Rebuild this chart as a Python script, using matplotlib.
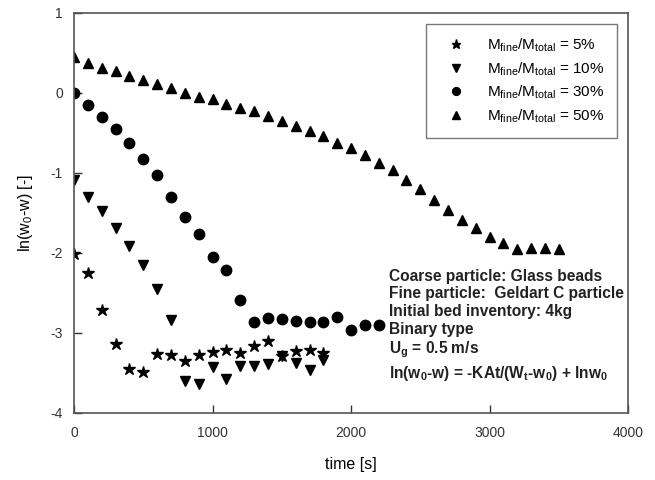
import matplotlib.pyplot as plt
import numpy as np

plt.rcParams['font.family'] = ['Liberation Sans', 'DejaVu Sans']
plt.rcParams['mathtext.fontset'] = 'custom'
plt.rcParams['mathtext.rm'] = 'Liberation Sans'
plt.rcParams['mathtext.it'] = 'Liberation Sans'
plt.rcParams['mathtext.bf'] = 'Liberation Sans:bold'
plt.rcParams['axes.unicode_minus'] = False

# data (time in s, ln(w0-w))
t_5 = [0, 100, 200, 300, 400, 500, 600, 700, 800, 900, 1000, 1100, 1200,
       1300, 1400, 1500, 1600, 1700, 1800]
y_5 = [-2.01, -2.25, -2.71, -3.14, -3.45, -3.49, -3.26, -3.28, -3.35, -3.28,
       -3.24, -3.21, -3.25, -3.17, -3.10, -3.29, -3.23, -3.22, -3.25]

t_10 = [0, 100, 200, 300, 400, 500, 600, 700, 800, 900, 1000, 1100, 1200,
        1300, 1400, 1500, 1600, 1700, 1800]
y_10 = [-1.09, -1.30, -1.48, -1.69, -1.92, -2.15, -2.45, -2.84, -3.60, -3.64,
        -3.43, -3.58, -3.42, -3.41, -3.39, -3.29, -3.38, -3.47, -3.34]

t_30 = [0, 100, 200, 300, 400, 500, 600, 700, 800, 900, 1000, 1100, 1200,
        1300, 1400, 1500, 1600, 1700, 1800, 1900, 2000, 2100, 2200]
y_30 = [0.0, -0.15, -0.30, -0.45, -0.63, -0.83, -1.03, -1.30, -1.55, -1.77,
        -2.05, -2.22, -2.59, -2.86, -2.82, -2.83, -2.85, -2.86, -2.87, -2.80,
        -2.97, -2.90, -2.90]

t_50 = [0, 100, 200, 300, 400, 500, 600, 700, 800, 900, 1000, 1100, 1200,
        1300, 1400, 1500, 1600, 1700, 1800, 1900, 2000, 2100, 2200, 2300,
        2400, 2500, 2600, 2700, 2800, 2900, 3000, 3100, 3200, 3300, 3400, 3500]
y_50 = [0.45, 0.38, 0.31, 0.27, 0.21, 0.16, 0.11, 0.06, 0.00, -0.05, -0.08,
        -0.14, -0.19, -0.23, -0.29, -0.35, -0.41, -0.47, -0.54, -0.62, -0.69,
        -0.78, -0.87, -0.97, -1.09, -1.20, -1.34, -1.47, -1.59, -1.69, -1.80,
        -1.88, -1.95, -1.94, -1.94, -1.95]

labels = [r'M$_\mathregular{fine}$/M$_\mathregular{total}$ = 5%',
          r'M$_\mathregular{fine}$/M$_\mathregular{total}$ = 10%',
          r'M$_\mathregular{fine}$/M$_\mathregular{total}$ = 30%',
          r'M$_\mathregular{fine}$/M$_\mathregular{total}$ = 50%']

info_lines = ['Coarse particle: Glass beads',
              'Fine particle:  Geldart C particle',
              'Initial bed inventory: 4kg',
              'Binary type',
              r'U$_\mathbf{g}$ = 0.5 m/s',
              r'ln(w$_\mathbf{0}$-w) = -KAt/(W$_\mathbf{t}$-w$_\mathbf{0}$) + lnw$_\mathbf{0}$']

fig = plt.figure(figsize=(6.55, 4.8), dpi=100)
ax = fig.add_axes([0.113, 0.14, 0.846, 0.833])

ax.plot(t_5, y_5, linestyle='none', marker='*', color='black', markersize=9, label=labels[0])
ax.plot(t_10, y_10, linestyle='none', marker='v', color='black', markersize=7.5, label=labels[1])
ax.plot(t_30, y_30, linestyle='none', marker='o', color='black', markersize=7.5, label=labels[2])
ax.plot(t_50, y_50, linestyle='none', marker='^', color='black', markersize=7.5, label=labels[3])

ax.set_xlim(0, 4000)
ax.set_ylim(-4, 1)
ax.set_xticks([0, 1000, 2000, 3000, 4000])
ax.set_yticks([-4, -3, -2, -1, 0, 1])
ax.tick_params(direction='in', length=6, width=1, labelsize=10, colors='#333333')
ax.tick_params(axis='x', pad=9.5)
ax.tick_params(axis='y', pad=8)
for sp in ax.spines.values():
    sp.set_color('#555555')
    sp.set_linewidth(1.2)

ax.set_xlabel('time [s]', fontsize=11.5, labelpad=12)
ax.set_ylabel(r'ln(w$_\mathregular{0}$-w) [-]', fontsize=11.5, labelpad=11)

leg = ax.legend(loc='upper right', bbox_to_anchor=(0.994, 0.992), fontsize=11,
                frameon=True, fancybox=False, edgecolor='#555555',
                handletextpad=0.9, labelspacing=0.4, borderpad=0.85,
                handlelength=2.2, markerscale=0.75)
leg.get_frame().set_linewidth(1.0)

ax.text(0.569, 0.36, '\n'.join(info_lines), transform=ax.transAxes,
        fontsize=11.2, fontweight='bold', va='top', ha='left', linespacing=1.22,
        color='#222222')

fig.savefig('out.png', dpi=100)
